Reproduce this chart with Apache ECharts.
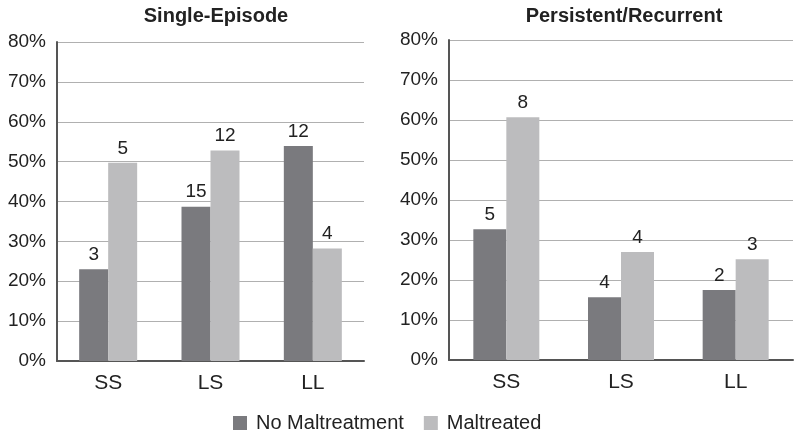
<!DOCTYPE html>
<html>
<head>
<meta charset="utf-8">
<script src="https://cdn.jsdelivr.net/npm/echarts@6/dist/echarts.min.js"></script>
<style>html,body{margin:0;padding:0;background:#fff}#c{width:800px;height:435px}</style>
</head>
<body>
<div id="c"></div>
<script>
var categories = ['SS', 'LS', 'LL'];
var panelTitles = ['Single-Episode', 'Persistent/Recurrent'];
var seriesNames = ['No Maltreatment', 'Maltreated'];
// percentages
var singleNoMal = [23.0, 38.7, 53.9];
var singleMal = [49.7, 52.8, 28.2];
var persNoMal = [32.7, 15.7, 17.5];
var persMal = [60.7, 27.0, 25.2];
// counts shown above bars
var singleNoMalN = [3, 15, 12];
var singleMalN = [5, 12, 4];
var persNoMalN = [5, 4, 2];
var persMalN = [8, 4, 3];

var FONT = '"Liberation Sans", Arial, Helvetica, sans-serif';
var DARK = '#7a7a7e';
var LIGHT = '#bcbcbe';

function mkData(vals, counts) {
  return vals.map(function (v, i) { return { value: v, n: counts[i] }; });
}
function mkSeries(name, idx, vals, counts, color, bw) {
  return {
    name: name, type: 'bar', xAxisIndex: idx, yAxisIndex: idx,
    data: mkData(vals, counts), barWidth: bw, barGap: '0%',
    itemStyle: { color: color },
    label: { show: true, position: 'top', distance: 5, color: '#222', fontFamily: FONT, fontSize: 19,
      formatter: function (p) { return p.data.n; } },
    emphasis: { disabled: true }
  };
}
function mkX(idx) {
  return {
    type: 'category', gridIndex: idx, data: categories,
    axisLine: { lineStyle: { color: '#555', width: 2 } },
    axisTick: { show: false },
    axisLabel: { color: '#222', fontFamily: FONT, fontSize: 21, margin: 12 }
  };
}
function mkY(idx) {
  return {
    type: 'value', gridIndex: idx, min: 0, max: 80, interval: 10,
    axisLine: { show: true, lineStyle: { color: '#555', width: 2 } },
    axisTick: { show: false },
    splitLine: { lineStyle: { color: '#b0b0b0', width: 1 } },
    axisLabel: { color: '#222', fontFamily: FONT, fontSize: 19, margin: 11, formatter: '{value}%' }
  };
}

var chart = echarts.init(document.getElementById('c'));
chart.setOption({
  animation: false,
  title: [
    { text: panelTitles[0], left: 211, top: 1, textAlign: 'center',
      textStyle: { fontFamily: FONT, fontSize: 20, fontWeight: 'bold', color: '#222' } },
    { text: panelTitles[1], left: 619, top: 1, textAlign: 'center',
      textStyle: { fontFamily: FONT, fontSize: 20, fontWeight: 'bold', color: '#222' } }
  ],
  legend: {
    data: seriesNames, left: 228, top: 408, icon: 'rect', itemWidth: 14, itemHeight: 14, itemGap: 20,
    textStyle: { fontFamily: FONT, fontSize: 20, color: '#222', padding: [0, 0, 0, 4] }
  },
  grid: [
    { left: 57, right: 436, top: 42, bottom: 74 },
    { left: 449, right: 7, top: 40, bottom: 75 }
  ],
  xAxis: [mkX(0), mkX(1)],
  yAxis: [mkY(0), mkY(1)],
  series: [
    mkSeries(seriesNames[0], 0, singleNoMal, singleNoMalN, DARK, 29),
    mkSeries(seriesNames[1], 0, singleMal, singleMalN, LIGHT, 29),
    mkSeries(seriesNames[0], 1, persNoMal, persNoMalN, DARK, 33),
    mkSeries(seriesNames[1], 1, persMal, persMalN, LIGHT, 33)
  ]
});
</script>
</body>
</html>
